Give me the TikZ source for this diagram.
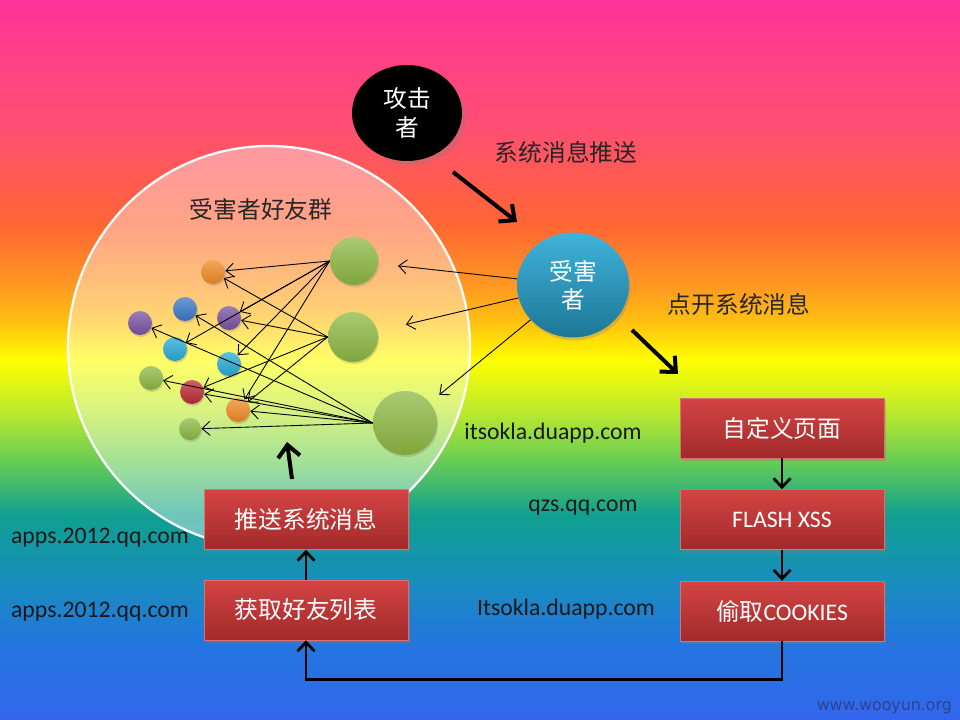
\documentclass[tikz,border=0pt]{standalone}
\usepackage{fontspec}
\setmainfont{Carlito}
\newfontfamily\cjk{Noto Sans CJK SC}
\newfontfamily\markfont{DejaVu Sans}
\usetikzlibrary{arrows.meta, positioning, shadows, shapes.geometric}

% background colours, bottom to top
\definecolor{bgA}{HTML}{3366EE}
\definecolor{bgB}{HTML}{2277DD}
\definecolor{bgC}{HTML}{1890B8}
\definecolor{bgD}{HTML}{0FA090}
\definecolor{bgE}{HTML}{66CC55}
\definecolor{bgF}{HTML}{B8E830}
\definecolor{bgG}{HTML}{FFFF00}
\definecolor{bgH}{HTML}{FFC010}
\definecolor{bgI}{HTML}{FF9922}
\definecolor{bgJ}{HTML}{FF6633}
\definecolor{bgK}{HTML}{FF5070}
\definecolor{bgL}{HTML}{FF3399}
\pgfdeclareverticalshading{rainbow}{100bp}{color(0bp)=(bgA); color(25bp)=(bgA);
  color(30.69bp)=(bgB); color(35.21bp)=(bgC); color(39.24bp)=(bgD); color(42.92bp)=(bgE);
  color(46.25bp)=(bgF); color(50bp)=(bgG); color(52.64bp)=(bgH); color(55.14bp)=(bgI);
  color(59.38bp)=(bgJ); color(65.83bp)=(bgK); color(75bp)=(bgL); color(100bp)=(bgL)}

\definecolor{boxtop}{HTML}{D44444}
\definecolor{boxbot}{HTML}{A22A2A}
\definecolor{boxline}{HTML}{DA7070}
\definecolor{mgreen}{HTML}{8DB843}
\definecolor{morange}{HTML}{F08A24}
\definecolor{mblue}{HTML}{3A78C8}
\definecolor{mpurple}{HTML}{7A52A2}
\definecolor{mcyan}{HTML}{2AAAD6}
\definecolor{mred}{HTML}{BE2A34}
\definecolor{marktext}{HTML}{2E4390}

\tikzset{
  every node/.style={font=\fontsize{13.5}{16}\selectfont},
  redbox/.style={
    draw=boxline, line width=0.3pt, top color=boxtop, bottom color=boxbot,
    minimum width=40.8mm, minimum height=12mm, text=white,
    drop shadow={shadow xshift=0.3mm, shadow yshift=-0.6mm, opacity=0.35}
  },
  group/.style={
    circle, draw=white, line width=0.45mm, fill=white, fill opacity=0.4,
    text opacity=1, minimum size=80.4mm, inner sep=0pt
  },
  member/.style={
    circle, inner sep=0pt, minimum size=4.8mm,
    top color=#1!75!white, bottom color=#1!90!black,
    drop shadow={shadow xshift=0.2mm, shadow yshift=-0.4mm, opacity=0.3}
  },
  site/.style={text=black!90},
  note/.style={text=black!85},
  thinarr/.style={-{Straight Barb[length=1.6mm,width=2.8mm]}, line width=0.5pt},
  fatarr/.style={-{Straight Barb[length=2.4mm,width=4.4mm]}, line width=0.8mm},
  boxarr/.style={-{Straight Barb[length=1.8mm,width=3.4mm]}, line width=0.55mm},
}

\begin{document}
\begin{tikzpicture}[x=0.2mm, y=-0.2mm]
  \useasboundingbox (0,0) rectangle (960,720);
  \shade[shading=rainbow] (0,0) rectangle (960,720);

  % friends circle
  \node[group] (friends) at (269,347) {};
  \node[note] (grouplabel) at (261,209) {\cjk 受害者好友群};

  % people
  \node[ellipse, fill=black, minimum width=22mm, minimum height=19.2mm, inner sep=0pt,
        text=white, align=center, drop shadow={opacity=0.25}] (attacker) at (407,113) {\cjk 攻击\\\cjk 者};
  \node[ellipse, top color=mcyan!90!white, bottom color=mcyan!70!black, minimum width=22.4mm,
        minimum height=21mm, inner sep=0pt, text=white, align=center,
        drop shadow={shadow xshift=0.3mm, shadow yshift=-0.6mm, opacity=0.3}] (victim) at (573,285) {\cjk 受害\\\cjk 者};

  % big friends
  \node[member=mgreen, minimum size=9.6mm] (g1) at (354,261) {};
  \node[member=mgreen, minimum size=10mm] (g2) at (353,337) {};
  \node[member=mgreen, minimum size=12.8mm] (g3) at (405,423) {};

  % small friends
  \node[member=morange] (or1) at (213,272) {};
  \node[member=mblue] (bl) at (185,309) {};
  \node[member=mpurple] (pu1) at (140,323) {};
  \node[member=mpurple] (pu2) at (229,318) {};
  \node[member=mcyan] (cy1) at (175,349) {};
  \node[member=mcyan] (cy2) at (229,364) {};
  \node[member=mgreen] (gs1) at (151,378) {};
  \node[member=mred] (rd) at (192,392) {};
  \node[member=morange] (or2) at (238,410) {};
  \node[member=mgreen, minimum size=4.4mm] (gs2) at (190,429) {};

  % boxes
  \node[redbox] (page) at (782,428) {\cjk 自定义页面};
  \node[redbox, below=6.2mm of page] (flash) {FLASH XSS};
  \node[redbox, below=6.2mm of flash] (steal) {{\cjk 偷取}COOKIES};
  \node[redbox] (fetch) at (306,610) {\cjk 获取好友列表};
  \node[redbox, above=6mm of fetch] (push) {\cjk 推送系统消息};

  % texts
  \node[note] (pushmsg) at (566,152) {\cjk 系统消息推送};
  \node[note] (openmsg) at (739,304) {\cjk 点开系统消息};
  \node[site] (site1) at (553,433) {itsokla.duapp.com};
  \node[site] (site2) at (583,508) {qzs.qq.com};
  \node[site] (site3) at (566,609) {Itsokla.duapp.com};
  \node[site] (site4) at (100,538) {apps.2012.qq.com};
  \node[site] (site5) at (100,612) {apps.2012.qq.com};
  \node[anchor=east, font=\markfont\fontsize{9}{11}\selectfont, text=marktext] (mark) at (958,708) {www.wooyun.org};

  % free ends of the thick arrows
  \coordinate (atk-a) at (453,172);
  \coordinate (atk-b) at (517,222);
  \coordinate (clk-a) at (632,330);
  \coordinate (clk-b) at (678,374);
  \coordinate (push-a) at (292,479);
  \coordinate (push-b) at (287,442);

  % arrows
  \draw[fatarr] (atk-a) -- (atk-b);
  \draw[fatarr] (clk-a) -- (clk-b);
  \draw[fatarr] (push-a) -- (push-b);
  \draw[boxarr] (page) -- (flash);
  \draw[boxarr] (flash) -- (steal);
  \draw[boxarr] (fetch) -- (push);
  \draw[boxarr] (steal.south) -- ++(0,38) -| (fetch.south);

  \draw[thinarr, shorten >=4mm] (victim) -- (g1);
  \draw[thinarr, shorten >=5.8mm] (victim) -- (g2);
  \draw[thinarr, shorten >=2.4mm] (victim) -- (g3);

  \foreach \t in {or1, pu2, cy1, cy2, or2}
    \draw[thinarr] (g1.west) -- (\t);
  \foreach \t in {or1, pu2, rd, or2}
    \draw[thinarr] (g2.west) -- (\t);
  \foreach \t in {gs2, rd, gs1, pu1, bl, or2}
    \draw[thinarr] (g3.west) -- (\t);
\end{tikzpicture}
\end{document}
